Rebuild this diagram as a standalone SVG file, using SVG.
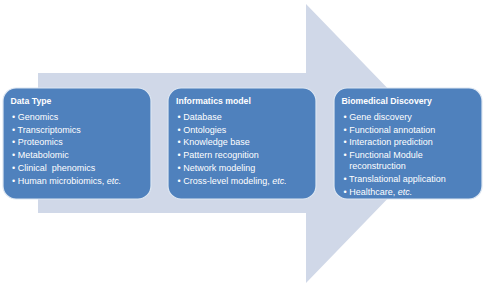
<svg xmlns="http://www.w3.org/2000/svg" width="485" height="286" viewBox="0 0 485 286">
<style>
.box{fill:#4f81bd;stroke:#dce6f2;stroke-width:1.2}
text{font-family:"Liberation Sans",Arial,sans-serif;font-size:9px;fill:#ffffff}
.t{font-weight:bold;font-size:8.7px}
</style>
<rect width="485" height="286" fill="#ffffff"/>
<g id="arrow">
<polygon points="38,73 306,73 306,4 441,143.5 306,283 306,213 38,213" fill="#d0d8e8"/>
</g>
<g id="node-data-type">
<rect class="box" x="3" y="88" width="148" height="111" rx="13"/>
<text class="t" x="10.5" y="104">Data Type</text>
<text x="12" y="119.8">• Genomics</text>
<text x="12" y="132.5">• Transcriptomics</text>
<text x="12" y="145.2">• Proteomics</text>
<text x="12" y="157.9">• Metabolomic</text>
<text x="12" y="170.8" xml:space="preserve">• Clinical  phenomics</text>
<text x="12" y="183.5">• Human microbiomics, <tspan font-style="italic">etc.</tspan></text>
</g>
<g id="node-informatics-model">
<rect class="box" x="168" y="88" width="148" height="111" rx="13"/>
<text class="t" x="176" y="104">Informatics model</text>
<text x="177.5" y="119.8">• Database</text>
<text x="177.5" y="132.5">• Ontologies</text>
<text x="177.5" y="145.2">• Knowledge base</text>
<text x="177.5" y="157.9">• Pattern recognition</text>
<text x="177.5" y="170.8">• Network modeling</text>
<text x="177.5" y="183.5">• Cross-level modeling, <tspan font-style="italic">etc.</tspan></text>
</g>
<g id="node-biomedical-discovery">
<rect class="box" x="334" y="88" width="148" height="111" rx="13"/>
<text class="t" x="341.5" y="104">Biomedical Discovery</text>
<text x="343.5" y="119.8">• Gene discovery</text>
<text x="343.5" y="132.5">• Functional annotation</text>
<text x="343.5" y="145.2">• Interaction prediction</text>
<text x="343.5" y="157.9">• Functional Module</text>
<text x="349.3" y="169">reconstruction</text>
<text x="343.5" y="181.8">• Translational application</text>
<text x="343.5" y="194.5">• Healthcare, <tspan font-style="italic">etc.</tspan></text>
</g>
<g id="connectors"></g>
</svg>
